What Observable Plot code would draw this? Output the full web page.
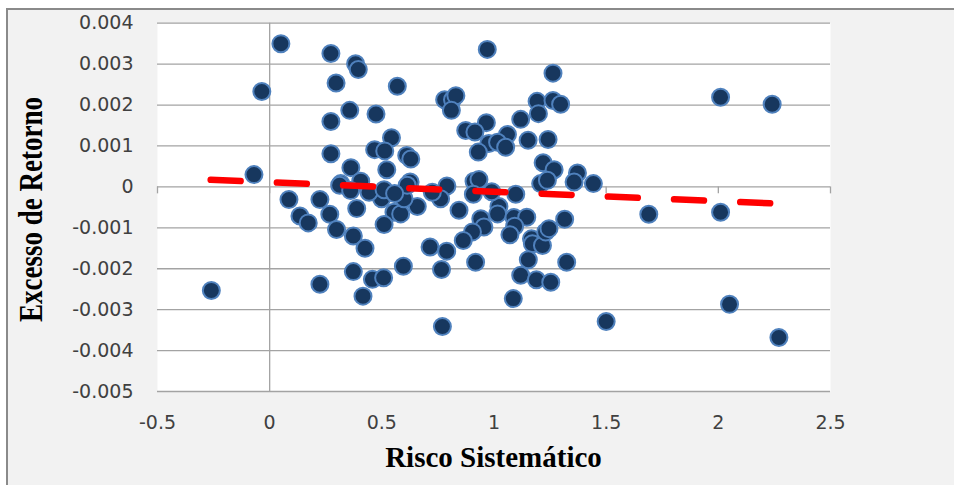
<!DOCTYPE html>
<html>
<head>
<meta charset="utf-8">
<script src="https://cdn.jsdelivr.net/npm/d3@7"></script>
<script src="https://cdn.jsdelivr.net/npm/@observablehq/plot@0.6"></script>
<style>
  html, body { margin: 0; padding: 0; background: #ffffff; }
  #wrap { position: relative; width: 954px; height: 485px; overflow: hidden; background: #ffffff; }
  #frame { position: absolute; left: 6px; top: 8px; width: 970px; height: 500px;
           background: #f2f2f2; border-top: 2px solid #8a8a8a; border-left: 2px solid #8a8a8a; }
  #chart { position: absolute; left: 0; top: 0; }
</style>
</head>
<body>
<div id="wrap"><div id="frame"></div><div id="chart"></div></div>
<script>
// Risco Sistemático (beta)
const risco = [
  0.05, -0.035, -0.07, -0.26, 0.97, 2.01, 2.24, 1.69, 2.01, 2.05, 2.27, 1.50, 0.77,
  0.273, 0.383, 0.395, 0.296, 0.569, 0.78, 0.815, 0.83, 0.81, 0.357, 0.474, 0.273,
  0.543, 0.468, 0.513, 0.273, 0.611, 0.629, 0.362, 0.522, 0.317, 0.406, 0.626, 0.79,
  1.263, 1.192, 1.263, 1.297, 1.198, 1.119, 0.966, 0.874, 0.915, 1.06, 1.152, 1.241,
  0.977, 1.016, 1.052, 0.93, 1.219, 1.268, 1.372, 1.443, 1.208, 1.238, 1.357, 0.911,
  0.933, 1.097, 0.086, 0.224, 0.135, 0.172, 0.268, 0.298, 0.388, 0.373, 0.425, 0.499,
  0.554, 0.584, 0.51, 0.658, 0.599, 0.762, 0.715, 0.789, 0.373, 0.458, 0.508, 0.596,
  0.766, 0.224, 0.416, 0.312, 0.361, 0.443, 0.51, 0.613, 0.725, 0.908, 0.844, 1.022,
  1.016, 0.941, 0.955, 0.904, 0.863, 0.918, 1.089, 1.146, 1.092, 1.071, 1.167, 1.171,
  1.216, 1.23, 1.245, 1.315, 1.153, 1.324, 1.119, 1.189, 1.253, 1.086, 0.557, 0.99
];
// Excesso de Retorno
const excesso = [
  0.0035, 0.00233, 0.0003, -0.00253, 0.00336, 0.00219, 0.00202, -0.00067, -0.00062, -0.00287, -0.00368, -0.00329, -0.00341,
  0.00326, 0.00301, 0.00287, 0.00254, 0.00246, 0.00213, 0.00213, 0.00223, 0.00187, 0.00187, 0.00178, 0.0016,
  0.0012, 0.00091, 0.00088, 0.00081, 0.00077, 0.00068, 0.00047, 0.00042, 0.00008, 0.00014, 0.00012, 0.00002,
  0.00278, 0.00209, 0.00211, 0.00202, 0.00179, 0.00165, 0.00157, 0.00138, 0.00134, 0.00128, 0.00114, 0.00116,
  0.00106, 0.00109, 0.00097, 0.00085, 0.00059, 0.00042, 0.00034, 0.00008, 0.00008, 0.00016, 0.00012, 0.00014,
  0.00018, -0.00018, -0.00031, -0.00031, -0.00071, -0.00088, -0.00067, -0.00104, -0.00053, -0.0012, -0.0015, -0.00029,
  -0.00062, -0.00066, -0.00092, -0.00048, -0.00029, -0.00029, -0.00147, -0.00157, -0.00207, -0.00226, -0.00222, -0.00194,
  -0.00202, -0.00238, -0.00267, 0.00004, -0.00009, -0.00013, -0.00007, 0.00004, -0.00013, -0.00018, -0.00057, -0.00048,
  -0.00066, -0.00078, -0.00098, -0.0011, -0.00131, -0.00184, -0.00075, -0.00074, -0.00096, -0.00117, -0.00127, -0.00139,
  -0.00143, -0.0011, -0.00102, -0.00079, -0.00178, -0.00184, -0.00216, -0.00227, -0.00233, -0.00273, -0.00016, -0.00012
];
// Linear trend line (endpoints)
const trendX = [-0.263, 2.234];
const trendY = [0.000174, -0.000403];

const xTicks = [-0.5, 0, 0.5, 1, 1.5, 2, 2.5];
const xTickLabels = ["-0.5", "0", "0.5", "1", "1.5", "2", "2.5"];
const yTicks = [0.004, 0.003, 0.002, 0.001, 0, -0.001, -0.002, -0.003, -0.004, -0.005];
const yTickLabels = ["0.004", "0.003", "0.002", "0.001", "0", "-0.001", "-0.002", "-0.003", "-0.004", "-0.005"];

const xTitle = "Risco Sistemático";
const yTitle = "Excesso de Retorno";

const points = risco.map((x, i) => ({x, y: excesso[i]}));
const trend = trendX.map((x, i) => ({x, y: trendY[i]}));
const lookup = (ticks, labels) => d => labels[ticks.findIndex(t => Math.abs(t - d) < 1e-9)];

const plot = Plot.plot({
  width: 954,
  height: 485,
  marginLeft: 157,
  marginRight: 124,
  marginTop: 22.7,
  marginBottom: 94,
  style: {background: "transparent", fontFamily: "DejaVu Sans", fontSize: "19px", color: "#404040", overflow: "visible"},
  x: {domain: [-0.5, 2.5], ticks: xTicks, tickFormat: lookup(xTicks, xTickLabels), tickSize: 0, tickPadding: 24, label: null},
  y: {domain: [-0.005, 0.004], ticks: yTicks, tickFormat: lookup(yTicks, yTickLabels), tickSize: 0, tickPadding: 24, label: null},
  marks: [
    Plot.frame({fill: "#ffffff", stroke: null}),
    Plot.ruleY(yTicks, {stroke: "#a3a3a3", strokeWidth: 1.3}),
    Plot.ruleX([0], {stroke: "#a3a3a3", strokeWidth: 1.3}),
    Plot.ruleX(xTicks, {y1: 0, y2: -0.00017, stroke: "#a3a3a3", strokeWidth: 1.3}),
    Plot.dot(points, {x: "x", y: "y", r: 8.5, fill: "#17375e", stroke: "#4f81bd", strokeWidth: 2}),
    Plot.line(trend, {x: "x", y: "y", stroke: "#ff0000", strokeWidth: 6.5, strokeDasharray: "30,36.25", strokeLinecap: "round"})
  ]
});

const svg = d3.select(plot);
svg.append("text")
  .attr("x", 493.5).attr("y", 467)
  .attr("text-anchor", "middle")
  .attr("font-family", "Liberation Serif")
  .attr("font-weight", "bold")
  .attr("font-size", 29)
  .attr("fill", "#000000")
  .text(xTitle);
svg.append("text")
  .attr("transform", "translate(42,209.5) rotate(-90)")
  .attr("text-anchor", "middle")
  .attr("font-family", "Liberation Serif")
  .attr("font-weight", "bold")
  .attr("font-size", 33)
  .attr("textLength", 225)
  .attr("lengthAdjust", "spacingAndGlyphs")
  .attr("fill", "#000000")
  .text(yTitle);

document.getElementById("chart").appendChild(plot);
</script>
</body>
</html>
